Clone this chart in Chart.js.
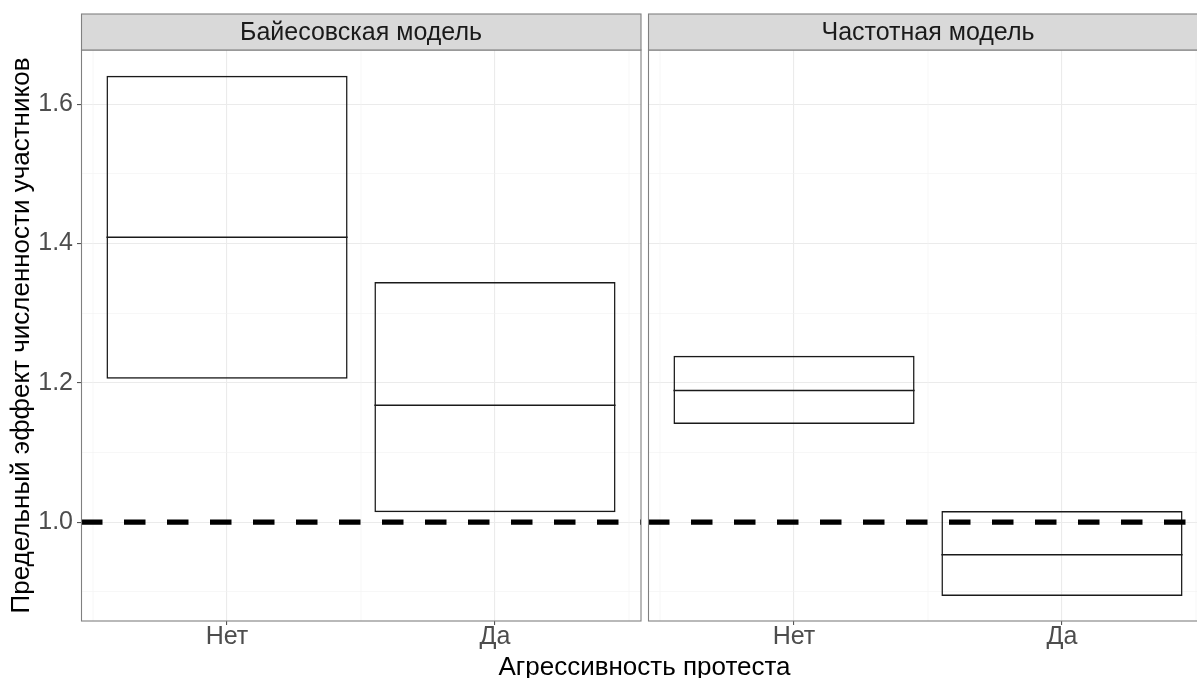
<!DOCTYPE html>
<html>
<head>
<meta charset="utf-8">
<script src="https://cdn.jsdelivr.net/npm/chart.js@4.4.1/dist/chart.umd.min.js"></script>
<style>
  html, body { margin: 0; padding: 0; background: #fff; overflow: hidden; }
  #wrap { position: relative; width: 1197px; height: 678px; overflow: hidden; }
  .panel { position: absolute; top: 0; }
  #xtitle {
    position: absolute; left: 81px; width: 1127px; top: 651px;
    text-align: center; color: #000; line-height: 26px;
    font: 26px "Liberation Sans", Arial, sans-serif;
  }
</style>
</head>
<body>
<div id="wrap">
  <div class="panel" style="left:0"><canvas id="left" width="648" height="678"></canvas></div>
  <div class="panel" style="left:640px"><canvas id="right" width="575" height="678"></canvas></div>
  <div id="xtitle">Агрессивность протеста</div>
</div>
<script>
// facets and categories
const panelTitles = ['Байесовская модель', 'Частотная модель'];
const categories = ['Нет', 'Да'];

// crossbar values (lower, middle, upper)
const bayesLow = [1.206, 1.014];
const bayesMid = [1.409, 1.168];
const bayesHigh = [1.641, 1.345];
const freqLow = [1.141, 0.894];
const freqMid = [1.189, 0.953];
const freqHigh = [1.239, 1.016];

// axes
const yTicks = [1.0, 1.2, 1.4, 1.6];
const yMin = 0.858, yMax = 1.678;
const xMin = 0.455, xMax = 2.545;
const xMinor = [0.5, 1.5, 2.5];
const refLine = 1.0;

const yTitle = 'Предельный эффект численности участников';

Chart.defaults.font.family = '"Liberation Sans", Arial, sans-serif';

const isMajor = (v) => yTicks.some(t => Math.abs(t - v) < 1e-6);

const panelPlugin = {
    id: 'panel',
    beforeDatasetsDraw(chart) {
        const { ctx, chartArea: a, scales: { x } } = chart;
        ctx.save();
        ctx.strokeStyle = '#f2f2f2';
        ctx.lineWidth = 0.6;
        xMinor.forEach(v => {
            const px = x.getPixelForValue(v);
            ctx.beginPath();
            ctx.moveTo(px, a.top);
            ctx.lineTo(px, a.bottom);
            ctx.stroke();
        });
        ctx.restore();
    },
    afterDatasetsDraw(chart, args, opts) {
        const { ctx, chartArea: a, scales: { y } } = chart;
        const meta = chart.getDatasetMeta(0);
        ctx.save();
        ctx.strokeStyle = '#1a1a1a';
        ctx.lineWidth = 1.5;
        meta.data.forEach((bar, i) => {
            const { x, width } = bar.getProps(['x', 'width'], true);
            const py = y.getPixelForValue(opts.mid[i]);
            ctx.beginPath();
            ctx.moveTo(x - width / 2, py);
            ctx.lineTo(x + width / 2, py);
            ctx.stroke();
        });
        // reference line
        ctx.beginPath();
        ctx.rect(a.left, a.top, a.right - a.left, a.bottom - a.top);
        ctx.clip();
        const ry = y.getPixelForValue(refLine);
        ctx.strokeStyle = '#000';
        ctx.lineWidth = 5.4;
        ctx.lineCap = 'butt';
        ctx.setLineDash([21.5, 21.5]);
        ctx.beginPath();
        ctx.moveTo(a.left, ry);
        ctx.lineTo(a.right, ry);
        ctx.stroke();
        ctx.restore();
    },
    afterDraw(chart, args, opts) {
        const { ctx, chartArea: a } = chart;
        ctx.save();
        ctx.strokeStyle = '#808080';
        ctx.lineWidth = 1.1;
        ctx.strokeRect(a.left + 0.5, a.top, a.right - a.left - 0.5, a.bottom - a.top);
        const sh = 36;
        ctx.fillStyle = '#d9d9d9';
        ctx.fillRect(a.left, a.top - sh, a.right - a.left, sh);
        ctx.strokeRect(a.left + 0.5, a.top - sh, a.right - a.left - 0.5, sh);
        ctx.fillStyle = '#1a1a1a';
        ctx.font = '25px "Liberation Sans", Arial, sans-serif';
        ctx.textAlign = 'center';
        ctx.textBaseline = 'middle';
        ctx.fillText(opts.title, (a.left + a.right) / 2, a.top - sh / 2 + 1);
        ctx.restore();
    }
};

function makeChart(id, title, low, mid, high, showY) {
    return new Chart(document.getElementById(id), {
        type: 'bar',
        data: {
            datasets: [{
                data: categories.map((c, i) => ({ x: i + 1, y: [low[i], high[i]] })),
                backgroundColor: 'rgba(0,0,0,0)',
                borderColor: '#1a1a1a',
                borderWidth: 1.5,
                borderSkipped: false,
                barPercentage: 0.9,
                categoryPercentage: 1
            }]
        },
        options: {
            responsive: false,
            animation: false,
            layout: { padding: { top: 50, left: showY ? 0 : 8, right: 7, bottom: 0 } },
            plugins: {
                legend: { display: false },
                tooltip: { enabled: false },
                panel: { title: title, mid: mid }
            },
            scales: {
                x: {
                    type: 'linear',
                    min: xMin,
                    max: xMax,
                    offset: false,
                    ticks: {
                        stepSize: 1,
                        includeBounds: false,
                        callback: (v) => categories[v - 1] ?? '',
                        font: { size: 25, lineHeight: 1 },
                        color: '#4d4d4d',
                        padding: 0,
                        maxRotation: 0
                    },
                    grid: { offset: false, color: '#ebebeb', lineWidth: 1.1, tickLength: 4, tickColor: '#555' },
                    border: { display: false },
                    afterFit: (s) => { s.height = 57; }
                },
                y: {
                    min: yMin,
                    max: yMax,
                    ticks: {
                        display: showY,
                        stepSize: 0.1,
                        includeBounds: false,
                        callback: (v) => isMajor(v) ? v.toFixed(1) : '',
                        font: { size: 25 },
                        color: '#4d4d4d',
                        padding: 4
                    },
                    grid: {
                        color: (c) => c.tick && isMajor(c.tick.value) ? '#ebebeb' : '#f2f2f2',
                        lineWidth: (c) => c.tick && isMajor(c.tick.value) ? 1.1 : 0.6,
                        drawTicks: showY,
                        tickLength: 4,
                        tickColor: (c) => c.tick && isMajor(c.tick.value) ? '#555' : 'rgba(0,0,0,0)'
                    },
                    border: { display: false },
                    title: {
                        display: showY,
                        text: yTitle,
                        font: { size: 26 },
                        color: '#000',
                        padding: { top: 6, bottom: 0 }
                    },
                    afterFit: (s) => { s.width = showY ? 81 : 0; }
                }
            }
        },
        plugins: [panelPlugin]
    });
}

makeChart('left', panelTitles[0], bayesLow, bayesMid, bayesHigh, true);
makeChart('right', panelTitles[1], freqLow, freqMid, freqHigh, false);
</script>
</body>
</html>
